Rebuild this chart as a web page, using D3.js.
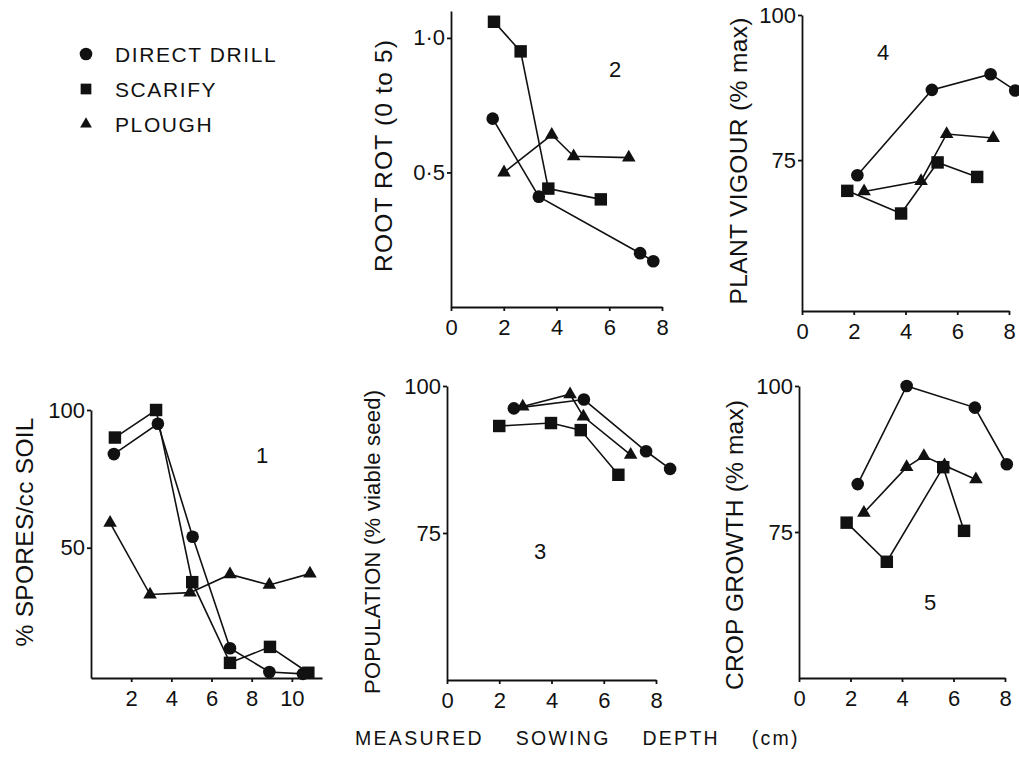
<!DOCTYPE html>
<html>
<head>
<meta charset="utf-8">
<script src="https://cdn.jsdelivr.net/npm/d3@7"></script>
<style>
body { margin: 0; background: #fff; }
svg { font-family: "Liberation Sans", Arial, sans-serif; }
.axis path, .axis line { stroke: #111; stroke-width: 1.8; }
.axis text { font-size: 22px; fill: #111; font-family: "Liberation Sans", Arial, sans-serif; }
</style>
</head>
<body>
<div class="chart"></div>
<script>
// treatments, in legend order
const treatments = ["DIRECT DRILL", "SCARIFY", "PLOUGH"];

// 1: % spores / cc soil  [depth, value]
const sporesDrill   = [[1.14, 84], [3.33, 95], [5.06, 54], [6.92, 13.5], [8.88, 4.9], [10.55, 4.2]];
const sporesScarify = [[1.19, 90], [3.24, 100], [5.04, 37.5], [6.92, 8.2], [8.91, 14], [10.82, 4.6]];
const sporesPlough  = [[0.95, 59], [2.94, 33], [4.93, 33.7], [6.92, 40.3], [8.88, 36.5], [10.9, 40.6]];

// 2: root rot (0 to 5)
const rotDrill   = [[1.58, 0.70], [3.33, 0.41], [7.17, 0.20], [7.67, 0.17]];
const rotScarify = [[1.63, 1.06], [2.64, 0.95], [3.69, 0.44], [5.68, 0.40]];
const rotPlough  = [[2.01, 0.50], [3.82, 0.64], [4.65, 0.56], [6.74, 0.555]];

// 3: population (% viable seed)
const popDrill   = [[2.56, 96.2], [5.24, 97.7], [7.62, 88.9], [8.54, 85.9]];
const popScarify = [[2.0, 93.2], [3.98, 93.7], [5.12, 92.5], [6.56, 84.9]];
const popPlough  = [[2.9, 96.5], [4.71, 98.6], [5.22, 94.8], [7.03, 88.3]];

// 4: plant vigour (% max)
const vigDrill   = [[2.14, 72.4], [5.02, 87.1], [7.29, 89.8], [8.24, 87.0]];
const vigScarify = [[1.75, 69.7], [3.83, 65.8], [5.24, 74.6], [6.77, 72.1]];
const vigPlough  = [[2.40, 69.6], [4.6, 71.4], [5.59, 79.5], [7.39, 78.8]];

// 5: crop growth (% max)
const growDrill   = [[2.28, 83.2], [4.18, 100], [6.83, 96.3], [8.07, 86.6]];
const growScarify = [[1.85, 76.6], [3.41, 69.9], [5.6, 86.1], [6.41, 75.2]];
const growPlough  = [[2.52, 78.3], [4.18, 86.1], [4.85, 88.0], [5.65, 86.4], [6.87, 84.0]];

// tick values
const depthTicks = [0, 2, 4, 6, 8];
const sporeDepthTicks = [2, 4, 6, 8, 10];
const pctTicks = [75, 100];
const sporeTicks = [50, 100];
const rotTicks = [0.5, 1.0];

const xTitle = "MEASURED SOWING DEPTH (cm)";

const panels = [
    { num: "1", title: "% SPORES/cc SOIL", data: [sporesDrill, sporesScarify, sporesPlough],
      xDomain: [0, 11.5], yDomain: [2.7, 100], xTicks: sporeDepthTicks, yTicks: sporeTicks },
    { num: "2", title: "ROOT ROT (0 to 5)", data: [rotDrill, rotScarify, rotPlough],
      xDomain: [0, 8], yDomain: [0, 1.1], xTicks: depthTicks, yTicks: rotTicks },
    { num: "3", title: "POPULATION (% viable seed)", data: [popDrill, popScarify, popPlough],
      xDomain: [0, 8], yDomain: [50, 100], xTicks: depthTicks, yTicks: pctTicks },
    { num: "4", title: "PLANT VIGOUR (% max)", data: [vigDrill, vigScarify, vigPlough],
      xDomain: [0, 8], yDomain: [49, 100], xTicks: depthTicks, yTicks: pctTicks },
    { num: "5", title: "CROP GROWTH (% max)", data: [growDrill, growScarify, growPlough],
      xDomain: [0, 8], yDomain: [50, 100], xTicks: depthTicks, yTicks: pctTicks }
];

// pixel layout of each panel (left, right, bottom, top), title and number placement
const layout = [
    { l: 91, r: 322, b: 678, t: 410, tx: 33, tc: 532, tl: 229, fs: 24.5, nx: 262, ny: 463 },
    { l: 451, r: 662, b: 307, t: 11, tx: 392, tc: 156, tl: 232, fs: 24.5, nx: 615, ny: 77 },
    { l: 447, r: 656, b: 680, t: 386, tx: 380, tc: 542, tl: 304, fs: 22, nx: 540, ny: 559 },
    { l: 802, r: 1009, b: 311, t: 15, tx: 747, tc: 161, tl: 287, fs: 24.5, nx: 883, ny: 60 },
    { l: 799, r: 1005, b: 678, t: 386, tx: 743, tc: 545, tl: 290, fs: 24.5, nx: 930, ny: 610 }
];

const width = 1019, height = 762;
const shapes = [d3.symbolCircle, d3.symbolSquare, d3.symbolTriangle];
const sizes = [125, 155, 80];

const svg = d3.select(".chart").append("svg")
    .attr("width", width)
    .attr("height", height);

function fmt(d) {
    return d < 10 ? d3.format(".1f")(d).replace(".", "\u00b7") : d;
}

panels.forEach(function(p, i) {
    const lay = layout[i];
    const x = d3.scaleLinear().domain(p.xDomain).range([lay.l, lay.r]);
    const y = d3.scaleLinear().domain(p.yDomain).range([lay.b, lay.t]);
    const g = svg.append("g").attr("class", "panel");

    g.append("g")
        .attr("class", "axis x-axis")
        .attr("transform", `translate(0, ${lay.b})`)
        .call(d3.axisBottom(x).tickValues(p.xTicks).tickSize(4).tickSizeOuter(0).tickPadding(8));

    g.append("g")
        .attr("class", "axis y-axis")
        .attr("transform", `translate(${lay.l}, 0)`)
        .call(d3.axisLeft(y).tickValues(p.yTicks).tickSize(4).tickSizeOuter(0).tickPadding(2).tickFormat(fmt));

    g.append("text")
        .attr("transform", `translate(${lay.tx}, ${lay.tc}) rotate(-90)`)
        .attr("text-anchor", "middle")
        .attr("font-size", lay.fs)
        .attr("textLength", lay.tl)
        .attr("lengthAdjust", "spacing")
        .attr("fill", "#111")
        .text(p.title);

    g.append("text")
        .attr("x", lay.nx)
        .attr("y", lay.ny)
        .attr("text-anchor", "middle")
        .attr("font-size", 22)
        .attr("fill", "#111")
        .text(p.num);

    const line = d3.line().x(d => x(d[0])).y(d => y(d[1]));

    p.data.forEach(function(s, k) {
        g.append("path")
            .datum(s)
            .attr("fill", "none")
            .attr("stroke", "#111")
            .attr("stroke-width", 1.6)
            .attr("d", line);

        g.selectAll(null)
            .data(s)
            .join("path")
            .attr("transform", d => `translate(${x(d[0])}, ${y(d[1])})`)
            .attr("fill", "#111")
            .attr("d", d3.symbol().type(shapes[k]).size(sizes[k]));
    });
});

// legend
const legend = svg.append("g").attr("class", "legend");
const legendY = d3.scalePoint().domain(treatments).range([54, 124]);
treatments.forEach(function(t, k) {
    legend.append("path")
        .attr("transform", `translate(86, ${legendY(t)})`)
        .attr("fill", "#111")
        .attr("d", d3.symbol().type(shapes[k]).size([125, 115, 60][k]));
    legend.append("text")
        .attr("x", 115)
        .attr("y", legendY(t) + 7.5)
        .attr("font-size", 21)
        .attr("letter-spacing", 1.6)
        .attr("fill", "#111")
        .text(t);
});

svg.append("text")
    .attr("x", 355)
    .attr("y", 745)
    .attr("font-size", 19.5)
    .attr("letter-spacing", 2.3)
    .attr("word-spacing", 24)
    .attr("fill", "#111")
    .text(xTitle);
</script>
</body>
</html>
